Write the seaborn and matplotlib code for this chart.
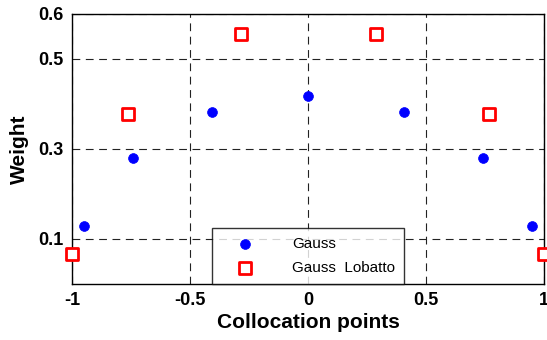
import numpy as np
import pandas as pd
import matplotlib
matplotlib.use("Agg")
import matplotlib.pyplot as plt
import seaborn as sns

gauss_x = [-0.9491, -0.7415, -0.4058, 0.0, 0.4058, 0.7415, 0.9491]
gauss_w = [0.1295, 0.2797, 0.3818, 0.4180, 0.3818, 0.2797, 0.1295]
lobatto_x = [-1.0, -0.7651, -0.2852, 0.2852, 0.7651, 1.0]
lobatto_w = [0.0667, 0.3785, 0.5549, 0.5549, 0.3785, 0.0667]
x_ticks = [-1, -0.5, 0, 0.5, 1]
x_labels = ["-1", "-0.5", "0", "0.5", "1"]
y_ticks = [0.1, 0.3, 0.5, 0.6]
y_labels = ["0.1", "0.3", "0.5", "0.6"]

sns.set_style("white")
plt.rcParams['font.family'] = ['Liberation Sans', 'DejaVu Sans']
plt.rcParams['text.color'] = 'black'
plt.rcParams['axes.labelcolor'] = 'black'
plt.rcParams['xtick.color'] = 'black'
plt.rcParams['ytick.color'] = 'black'

fig = plt.figure(figsize=(5.47, 3.40), dpi=100)
ax = fig.add_axes([0.132, 0.165, 0.863, 0.794])

df_g = pd.DataFrame({"x": gauss_x, "w": gauss_w})
df_l = pd.DataFrame({"x": lobatto_x, "w": lobatto_w})

sns.scatterplot(data=df_g, x="x", y="w", ax=ax, marker="o", s=50,
                color="#0000ff", edgecolor="#0000ff", linewidth=0.5,
                label="Gauss", zorder=3, clip_on=False)
sns.scatterplot(data=df_l, x="x", y="w", ax=ax, marker="s", s=80,
                facecolor="white", edgecolor="#ff0000", linewidth=2,
                label="Gauss  Lobatto", zorder=3, clip_on=False)

ax.set_xlim(-1, 1)
ax.set_ylim(0, 0.6)
ax.set_xticks(x_ticks)
ax.set_xticklabels(x_labels)
ax.set_yticks(y_ticks)
ax.set_yticklabels(y_labels)
for lab in ax.get_xticklabels() + ax.get_yticklabels():
    lab.set_fontweight("bold")
    lab.set_fontsize(13)
ax.tick_params(axis="both", length=0, pad=6)

ax.grid(True, linestyle=(0, (7, 5)), color="#222222", linewidth=0.8)
for s in ax.spines.values():
    s.set_color("black")
    s.set_linewidth(1.0)

ax.set_xlabel("Collocation points", fontsize=15, fontweight="bold", labelpad=3)
ax.set_ylabel("Weight", fontsize=15, fontweight="bold", labelpad=7)

leg = ax.legend(loc="lower center", bbox_to_anchor=(0.4995, 0.0), fontsize=11,
                frameon=True, fancybox=False, edgecolor="black",
                borderpad=0.55, handletextpad=1.5, labelspacing=0.7,
                handlelength=3.2, borderaxespad=0)
leg.get_frame().set_linewidth(1.0)
leg.set_zorder(5)
for t in leg.get_texts():
    t.set_fontweight("normal")

fig.savefig("out.png", dpi=100)
